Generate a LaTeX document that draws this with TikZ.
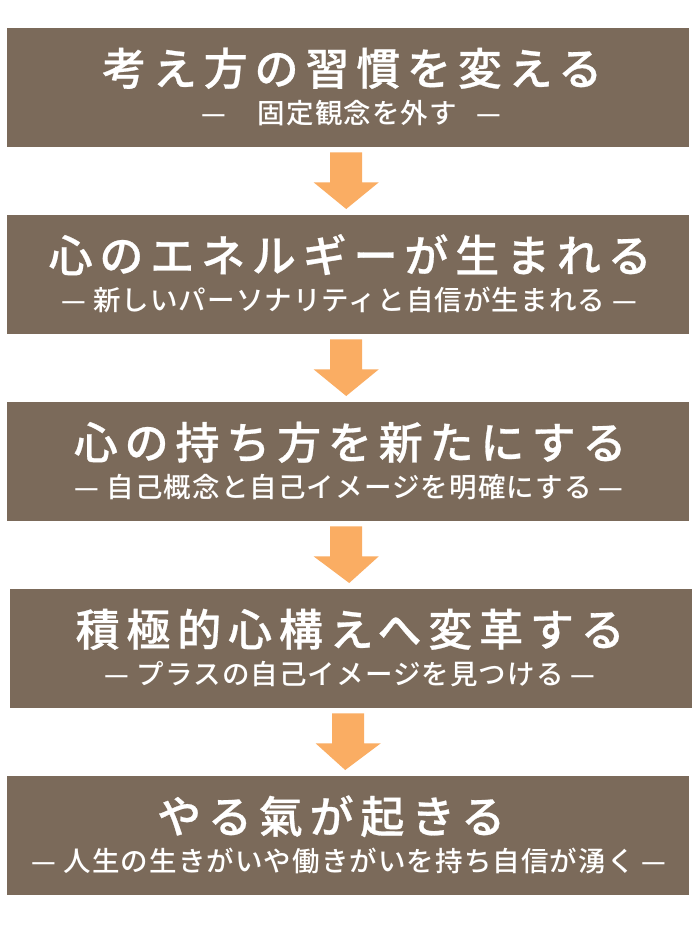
\documentclass[tikz,border=0pt]{standalone}
\usepackage{fontspec}
\IfFontExistsTF{Noto Sans CJK JP Medium}
  {\newfontfamily\jp{Noto Sans CJK JP Medium}[LetterSpace=15.5,FakeBold=0.6]
   \newfontfamily\jpsub{Noto Sans CJK JP Medium}[LetterSpace=4]}
  {\newfontfamily\jp{Noto Sans CJK JP}[LetterSpace=15.5,FakeBold=1.5]
   \newfontfamily\jpsub{Noto Sans CJK JP}[LetterSpace=4]}
\usetikzlibrary{calc}
\definecolor{boxbrown}{HTML}{7B6A5A}
\definecolor{arroworange}{HTML}{FAAD63}
\tikzset{
  stagebox/.style={fill=boxbrown, draw=none, minimum width=682pt, minimum height=119pt, anchor=north west, inner sep=0pt},
  titletext/.style={text=white, anchor=base, inner sep=0pt, font=\jp\fontsize{44pt}{48pt}\selectfont},
  subtext/.style={text=white, anchor=base, inner sep=0pt, font=\jpsub\fontsize{27.5pt}{31pt}\selectfont},
  blockarrow/.style={fill=arroworange, draw=none}
}
\newcommand{\blockarr}[3]{% #1 = upper box, #2 = lower box, #3 = x shift (pt)
  \coordinate (#1top) at ($(#1.south)+(#3pt,-5pt)$);
  \coordinate (#1tip) at ($(#2.north)+(#3pt,6pt)$);
  \fill[blockarrow] ($(#1top)+(-16pt,0)$) -- ($(#1top)+(16pt,0)$) -- ($(#1top)+(16pt,-30pt)$) -- ($(#1top)+(32.5pt,-30pt)$) -- (#1tip) -- ($(#1top)+(-32.5pt,-30pt)$) -- ($(#1top)+(-16pt,-30pt)$) -- cycle;
}
\begin{document}
\begin{tikzpicture}[x=1pt,y=-1pt]
\useasboundingbox (0,0) rectangle (700,932);
\fill[white] (0,0) rectangle (700,932);

\node[stagebox] (b1) at (7,28) {};
\node[stagebox] (b2) at (7,215) {};
\node[stagebox] (b3) at (7,402) {};
\node[stagebox] (b4) at (10,589) {};
\node[stagebox] (b5) at (7,776) {};

\node[titletext] (t1) at ($(b1.north)+(4,57)$) {考え方の習慣を変える};
\node[subtext] (s1) at ($(b1.north)+(3,95)$) {—\hspace{1.15em}固定観念を外す\hspace{0.7em}—};

\node[titletext] (t2) at ($(b2.north)+(2,57)$) {心のエネルギーが生まれる};
\node[subtext] (s2) at ($(b2.north)+(1,95)$) {— 新しいパーソナリティと自信が生まれる —};

\node[titletext] (t3) at ($(b3.north)+(2,57)$) {心の持ち方を新たにする};
\node[subtext] (s3) at ($(b3.north)+(1,95)$) {— 自己概念と自己イメージを明確にする —};

\node[titletext] (t4) at ($(b4.north)+(-1,57)$) {積極的心構えへ変革する};
\node[subtext] (s4) at ($(b4.north)+(-1,95)$) {— プラスの自己イメージを見つける —};

\node[titletext] (t5) at ($(b5.north)+(-17,57)$) {やる氣が起きる};
\node[subtext] (s5) at ($(b5.north)+(1,95)$) {— 人生の生きがいや働きがいを持ち自信が湧く —};

\blockarr{b1}{b2}{-2}
\blockarr{b2}{b3}{-2}
\blockarr{b3}{b4}{-2}
\blockarr{b4}{b5}{-3}
\end{tikzpicture}
\end{document}
